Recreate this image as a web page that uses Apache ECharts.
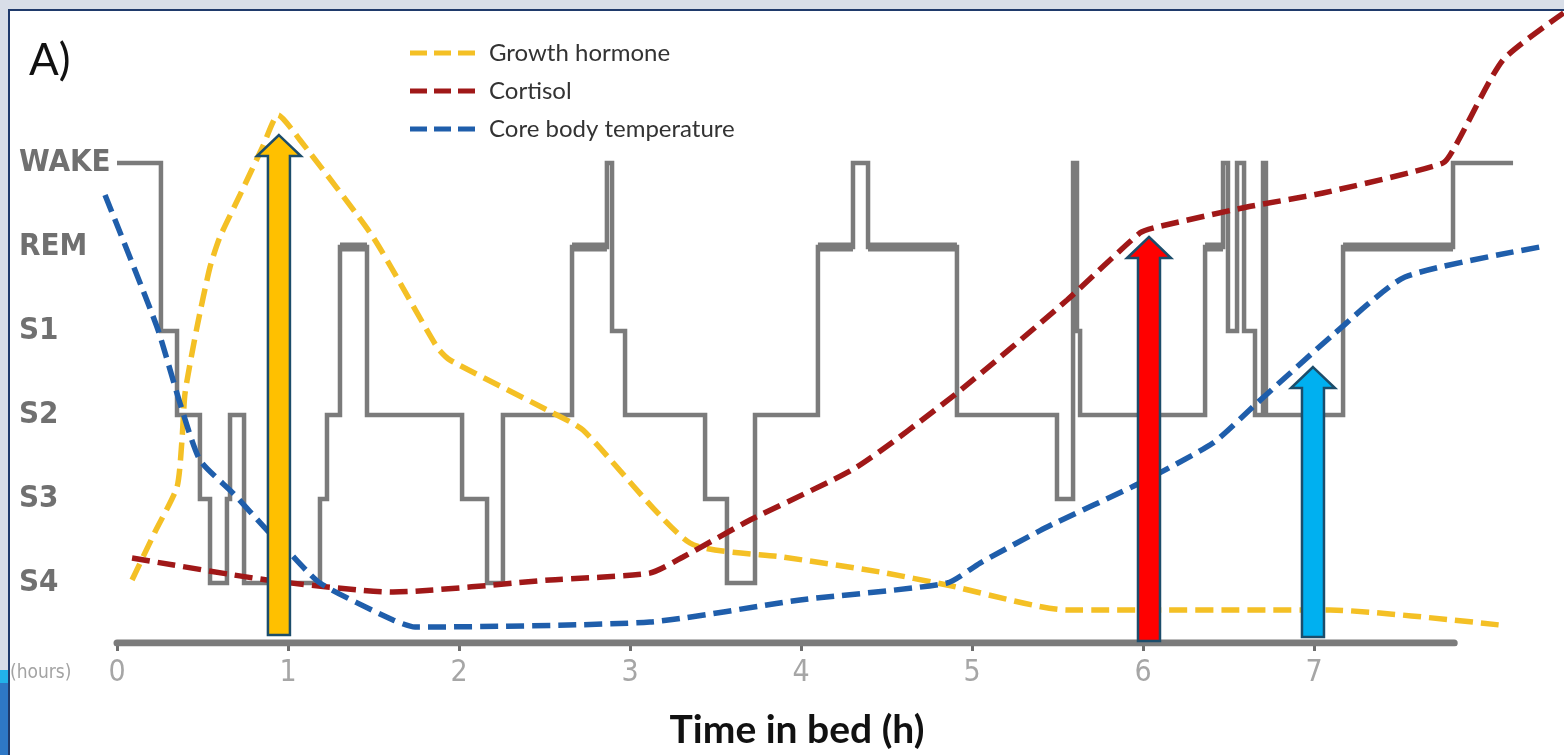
<!DOCTYPE html>
<html><head><meta charset="utf-8">
<script src="https://cdn.jsdelivr.net/npm/echarts@6/dist/echarts.min.js"></script>
<style>html,body{margin:0;padding:0;background:#fff}#c{width:1564px;height:755px}</style>
</head><body><div id="c"></div>
<script>
// ---------- data ----------
const stageLabels = ['S4', 'S3', 'S2', 'S1', 'REM', 'WAKE'];
const stageValues = [0, 1, 2, 3, 4, 5];
const hourTicks = [0, 1, 2, 3, 4, 5, 6, 7];
const axisStart = 0;
const axisEnd = 7.82;
const axisBaseline = -0.714;

// sleep stage held from x until the next x (S4=0 ... WAKE=5)
const hypnogram = [
  [0,5],[0.257,3],[0.351,2],[0.485,1],[0.544,0],[0.643,1],[0.661,2],[0.743,0],
  [1.187,1],[1.228,2],[1.304,4],[1.462,2],[2.018,1],[2.164,0],[2.257,2],[2.661,4],
  [2.865,5],[2.895,3],[2.971,2],[3.439,1],[3.567,0],[3.731,2],[4.099,4],[4.304,5],
  [4.392,4],[4.912,2],[5.497,1],[5.591,5],[5.614,3],[5.632,2],[6.363,4],[6.468,5],
  [6.497,3],[6.550,5],[6.591,3],[6.655,2],[6.702,5],[6.719,2],[7.170,4],[7.813,5],
  [8.164,5]
];
// REM periods drawn heavier
const remSegments = [[1.304,1.462],[2.661,2.865],[4.099,4.304],[4.392,4.912],[6.363,6.468],[7.170,7.813]];

const growthHormone = [
  [0.088,0.036],[0.222,0.607],[0.351,1.143],[0.380,1.702],[0.398,2.262],[0.468,3.048],
  [0.544,3.762],[0.602,4.119],[0.719,4.619],[0.854,5.202],[0.942,5.571],[1.070,5.274],
  [1.497,4.119],[1.871,2.810],[1.947,2.655],[2.515,2.060],[2.725,1.821],[3.351,0.476],
  [3.895,0.310],[4.462,0.131],[4.854,-0.024],[5.556,-0.321],[7.094,-0.321],[8.088,-0.500]
];
const cortisol = [
  [0.088,0.298],[0.877,0.036],[1.614,-0.107],[2.532,0.036],[3.117,0.119],[3.310,0.310],
  [3.702,0.750],[4.327,1.381],[4.912,2.262],[5.556,3.369],[5.982,4.167],[6.082,4.238],
  [6.608,4.476],[7.053,4.643],[7.754,5.000],[7.836,5.238],[8.105,6.226],[8.460,6.786]
];
const coreTemp = [
  [-0.070,4.619],[0.234,3.048],[0.368,2.143],[0.485,1.464],[0.678,1.071],[0.877,0.631],
  [0.994,0.393],[1.187,0.000],[1.614,-0.440],[1.743,-0.524],[3.117,-0.464],[3.994,-0.202],
  [4.854,0.000],[5.047,0.238],[5.439,0.667],[5.982,1.190],[6.409,1.667],[6.667,2.143],
  [7.123,2.976],[7.532,3.643],[8.322,4.000]
];

const arrowNames = ['Growth hormone', 'Cortisol', 'Core body temperature'];
const arrowX = [0.947, 6.035, 6.994];
const arrowTop = [5.333, 4.119, 2.571];
const arrowBottom = [-0.619, -0.690, -0.643];

// ---------- styles / layout ----------
const COLORS = { 'Growth hormone': '#f4c025', 'Cortisol': '#a01818', 'Core body temperature': '#1f5eab' };
const ARROW_FILL = { 'Growth hormone': '#ffc000', 'Cortisol': '#ff0000', 'Core body temperature': '#00b0f0' };
const GREY = '#7b7b7b';
const DASH = [18, 8];
const NARROW = '"Liberation Sans Narrow", "DejaVu Sans Condensed", sans-serif';
const LEGEND_ICON = 'path://M0,0h17v5h-17z M24,0h17v5h-17z M48,0h17v5h-17z';
const X_MIN = -0.1, X_MAX = 8.46, PX_PER_H = 171;
const GRID_LEFT = 117 + X_MIN * PX_PER_H;
const GRID_WIDTH = (X_MAX - X_MIN) * PX_PER_H;
const TITLE_CENTER = 797;

const remData = [];
remSegments.forEach(s => { remData.push([s[0], 4], [s[1], 4], [s[1], '-']); });

const chart = echarts.init(document.getElementById('c'), null, { renderer: 'canvas' });

function dashed(name, data) {
  return {
    name, type: 'line', data, showSymbol: false, symbol: 'none', smooth: 0.2, clip: false, z: 4,
    lineStyle: { color: COLORS[name], width: 5.5, type: DASH, cap: 'butt' },
    itemStyle: { color: COLORS[name] }
  };
}

const titleShift = 2 * ((GRID_LEFT + GRID_WIDTH / 2) - TITLE_CENTER);

chart.setOption({
  animation: false,
  backgroundColor: '#ffffff',
  graphic: { elements: [
    { type: 'rect', z: -10, shape: { x: 0, y: 0, width: 1564, height: 755 }, style: { fill: '#d8dee8' } },
    { type: 'rect', z: -9, shape: { x: 9, y: 10, width: 1555, height: 745 }, style: { fill: '#ffffff' } },
    { type: 'rect', z: -8, shape: { x: 8, y: 9, width: 1556, height: 2 }, style: { fill: '#1f3a6b' } },
    { type: 'rect', z: -8, shape: { x: 8, y: 9, width: 2, height: 746 }, style: { fill: '#1f3a6b' } },
    { type: 'rect', z: -8, shape: { x: 0, y: 670, width: 8, height: 13 }, style: { fill: '#22b2ea' } },
    { type: 'rect', z: -8, shape: { x: 0, y: 683, width: 8, height: 72 }, style: { fill: '#2e78c6' } },
    { type: 'text', z: 10, x: 29, y: 61, style: { text: 'A)', font: '44px Lato, "Open Sans", sans-serif', fill: '#111', verticalAlign: 'middle', align: 'left' } },
    { type: 'text', z: 10, x: 10, y: 673, style: { text: '(hours)', font: '19px ' + NARROW, fill: '#a3a3a3', verticalAlign: 'middle', align: 'left' } }
  ] },
  legend: {
    data: arrowNames,
    orient: 'vertical', left: 405, top: 36,
    icon: LEGEND_ICON,
    itemWidth: 65, itemHeight: 5, itemGap: 14,
    textStyle: { fontFamily: 'Lato, "Open Sans", sans-serif', fontSize: 24, color: '#333', padding: [0, 0, 0, 9], lineHeight: 24 }
  },
  grid: { left: GRID_LEFT, top: 3.4, width: GRID_WIDTH, height: 639.6, containLabel: false },
  xAxis: {
    type: 'value', min: X_MIN, max: X_MAX,
    name: 'Time in bed (h)', nameLocation: 'middle', nameGap: 68,
    nameTextStyle: { fontFamily: 'Lato, "Open Sans", sans-serif', fontWeight: 'bold', fontSize: 39, color: '#111',
      padding: titleShift > 0 ? [0, titleShift, 0, 0] : [0, 0, 0, -titleShift] },
    axisLine: { show: false, onZero: false },
    axisTick: { show: true, customValues: hourTicks, length: 8, lineStyle: { color: '#6e6e6e', width: 3 } },
    axisLabel: {
      customValues: hourTicks, margin: 15,
      formatter: v => String(v),
      fontFamily: NARROW, fontSize: 30, color: '#a6a6a6'
    },
    splitLine: { show: false }
  },
  yAxis: {
    type: 'value', min: axisBaseline, max: 6.9,
    axisLine: { show: false }, axisTick: { show: false }, splitLine: { show: false },
    axisLabel: {
      customValues: stageValues, margin: GRID_LEFT - 19, align: 'left',
      formatter: v => { const i = stageValues.indexOf(Math.round(v)); return i >= 0 ? stageLabels[i] : ''; },
      fontFamily: NARROW, fontWeight: 'bold', fontSize: 31, color: '#707070'
    }
  },
  series: [
    { name: 'time axis', type: 'line', data: [[axisStart, axisBaseline], [axisEnd, axisBaseline]], showSymbol: false, symbol: 'none', z: 1, silent: true,
      lineStyle: { color: GREY, width: 7, cap: 'round' } },
    { name: 'Sleep stage', type: 'line', data: hypnogram, step: 'end', showSymbol: false, symbol: 'none', clip: false, z: 2,
      lineStyle: { color: GREY, width: 4.5, join: 'miter', cap: 'butt' } },
    { name: 'REM', type: 'line', data: remData, showSymbol: false, symbol: 'none', clip: false, z: 2, connectNulls: false,
      lineStyle: { color: GREY, width: 9, cap: 'butt' } },
    dashed('Growth hormone', growthHormone),
    dashed('Cortisol', cortisol),
    dashed('Core body temperature', coreTemp),
    { name: 'arrows', type: 'custom', clip: false, z: 6,
      data: arrowX.map((x, i) => [x, arrowTop[i], arrowBottom[i], i]),
      encode: { x: 0, y: [1, 2] },
      renderItem: (params, api) => {
        const i = api.value(3);
        const pT = api.coord([api.value(0), api.value(1)]);
        const pB = api.coord([api.value(0), api.value(2)]);
        const cx = pT[0], ty = pT[1], by = pB[1];
        const sw = 11, hw = 22, hh = 21;
        return { type: 'polygon',
          shape: { points: [[cx, ty], [cx + hw, ty + hh], [cx + sw, ty + hh], [cx + sw, by], [cx - sw, by], [cx - sw, ty + hh], [cx - hw, ty + hh]] },
          style: { fill: ARROW_FILL[arrowNames[i]], stroke: '#1c4d6b', lineWidth: 2.5, lineJoin: 'miter' } };
      }
    }
  ]
});
</script></body></html>
